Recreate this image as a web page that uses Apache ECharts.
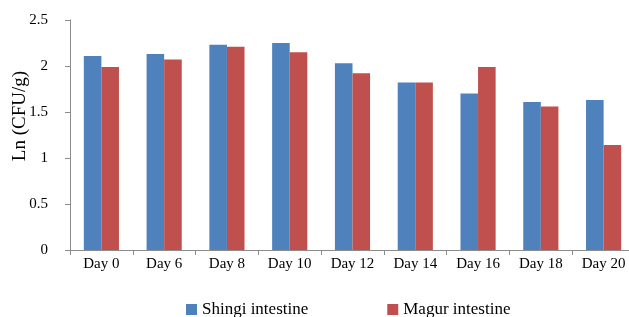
<!DOCTYPE html>
<html>
<head>
<meta charset="utf-8">
<script src="https://cdn.jsdelivr.net/npm/echarts@6/dist/echarts.min.js"></script>
<style>
  html, body { margin: 0; padding: 0; background: #fff; }
  #chart { width: 629px; height: 317px; }
</style>
</head>
<body>
<div id="chart"></div>
<script>
var days = ['Day 0', 'Day 6', 'Day 8', 'Day 10', 'Day 12', 'Day 14', 'Day 16', 'Day 18', 'Day 20'];
var shingi = [2.11, 2.13, 2.23, 2.25, 2.03, 1.82, 1.70, 1.61, 1.63];
var magur = [1.99, 2.07, 2.21, 2.15, 1.92, 1.82, 1.99, 1.56, 1.14];
var seriesNames = ['Shingi intestine', 'Magur intestine'];
var colorArr = ['#4f81bd', '#c0504d'];

var font = 'Liberation Serif';
var myChart = echarts.init(document.getElementById('chart'));
var option = {
  color: colorArr,
  backgroundColor: '#fff',
  animation: false,
  grid: { left: 70, top: 20, height: 230, width: 565, outerBoundsMode: 'none', containLabel: false },
  legend: {
    data: seriesNames,
    left: 181,
    top: 296,
    itemWidth: 11,
    itemHeight: 11,
    itemGap: 79,
    icon: 'rect',
    textStyle: { fontFamily: font, fontSize: 17, color: '#000' }
  },
  xAxis: {
    type: 'category',
    data: days,
    axisLine: { lineStyle: { color: '#8c8c8c', width: 1 } },
    axisTick: { show: true, length: 5, lineStyle: { color: '#8c8c8c' } },
    axisLabel: { fontFamily: font, fontSize: 15, color: '#000', margin: 7 }
  },
  yAxis: {
    type: 'value',
    min: 0,
    max: 2.5,
    interval: 0.5,
    name: 'Ln (CFU/g)',
    nameLocation: 'middle',
    nameGap: 40,
    nameMoveOverlap: false,
    nameTextStyle: { fontFamily: font, fontSize: 19, color: '#000', padding: [0, 0, 0, 38] },
    splitLine: { show: false },
    axisLine: { show: true, lineStyle: { color: '#8c8c8c', width: 1 } },
    axisTick: { show: true, length: 5, lineStyle: { color: '#8c8c8c' } },
    axisLabel: { fontFamily: font, fontSize: 15, color: '#000', margin: 22 }
  },
  series: [{
    name: seriesNames[0],
    type: 'bar',
    data: shingi,
    barGap: '0%',
    barCategoryGap: '44%'
  }, {
    name: seriesNames[1],
    type: 'bar',
    data: magur,
    barGap: '0%',
    barCategoryGap: '44%'
  }]
};
myChart.setOption(option);
</script>
</body>
</html>
